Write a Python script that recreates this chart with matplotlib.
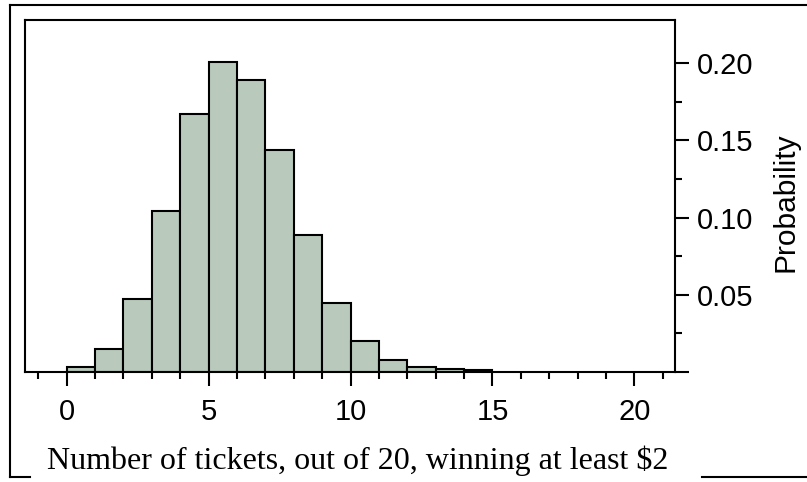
import numpy as np
import matplotlib
matplotlib.use("Agg")
import matplotlib.pyplot as plt
from matplotlib.lines import Line2D
from matplotlib.ticker import MultipleLocator, FixedLocator

# number of winning tickets (bar left edges) and probabilities
k = [0, 1, 2, 3, 4, 5, 6, 7, 8, 9, 10, 11, 12, 13, 14]
prob = [0.0035, 0.015, 0.047, 0.104, 0.167, 0.201, 0.189, 0.144, 0.089,
        0.045, 0.020, 0.008, 0.0033, 0.0017, 0.0012]
yticks = [0.0, 0.05, 0.10, 0.15, 0.20]
ytick_labels = ["", "0.05", "0.10", "0.15", "0.20"]
xlabel = "Number of tickets, out of 20, winning at least $2"
ylabel = "Probability"

W, H = 807, 482
fig = plt.figure(figsize=(W / 100, H / 100), dpi=100)

def fx(px):
    return px / W

def fy(py):
    return 1 - py / H

ax = fig.add_axes([fx(25), fy(372), fx(675) - fx(25), fy(20) - fy(372)])

ax.bar(k, prob, width=1.0, align="edge", color="#b9cabd",
       edgecolor="black", linewidth=1.5, zorder=2)

ax.set_xlim(-1.47, 21.43)
ax.set_ylim(0, 0.228)

for s in ax.spines.values():
    s.set_linewidth(1.5)

ax.xaxis.set_major_locator(MultipleLocator(5))
ax.xaxis.set_minor_locator(FixedLocator(range(-1, 22)))
ax.yaxis.set_major_locator(FixedLocator(yticks))
ax.set_yticklabels(ytick_labels)
ax.yaxis.set_minor_locator(FixedLocator([0.025, 0.075, 0.125, 0.175]))
ax.yaxis.tick_right()

ax.tick_params(which="major", length=10, width=1.5, direction="out",
               labelsize=21)
ax.tick_params(axis="x", which="major", pad=9)
ax.tick_params(axis="y", which="major", pad=6)
ax.tick_params(which="minor", length=5, width=1.5, direction="out")
ax.tick_params(axis="y", which="both", left=False, right=True)
ax.tick_params(axis="x", which="both", top=False, bottom=True)
for lab in ax.get_xticklabels() + ax.get_yticklabels():
    lab.set_fontfamily("Liberation Sans")

fig.text(fx(786), fy(202), ylabel, rotation=90, ha="center", va="center",
         fontsize=21.5, family="Liberation Sans")

# outer frame, broken by the x label
lw = 1.5
fig.add_artist(Line2D([fx(10), fx(10)], [fy(477), fy(5)], color="black", lw=lw))
fig.add_artist(Line2D([fx(10), 1.0], [fy(5), fy(5)], color="black", lw=lw))
fig.add_artist(Line2D([fx(10), fx(30)], [fy(477), fy(477)], color="black", lw=lw))
fig.add_artist(Line2D([fx(702), 1.0], [fy(477), fy(477)], color="black", lw=lw))

fig.text(fx(358), fy(469), xlabel, ha="center", va="baseline",
         fontsize=23, family="Liberation Serif")

fig.savefig("out.png", dpi=100)
